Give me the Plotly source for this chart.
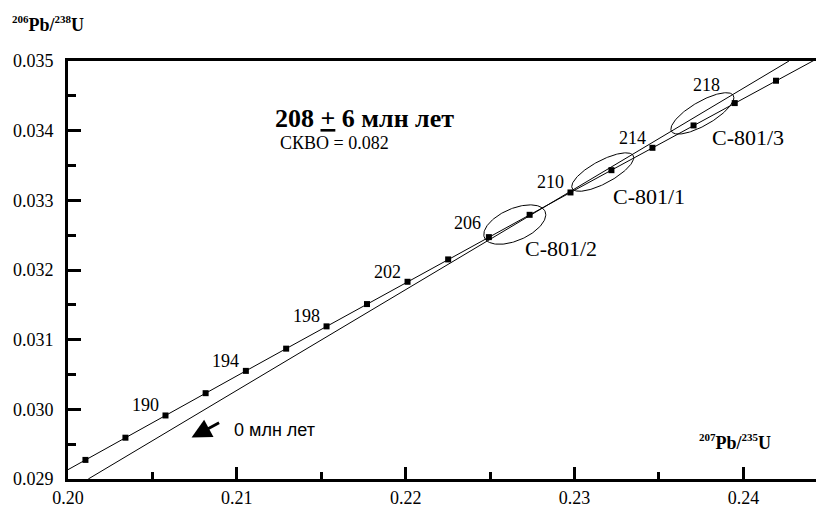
import numpy as np
import plotly.graph_objects as go

# ---------------- data ----------------
# Concordia tick marks (age in Ma) and their ratios
marker_ages = [186, 188, 190, 192, 194, 196, 198, 200, 202, 204, 206, 208, 210, 212, 214, 216, 218, 220]
marker_x = [0.201033, 0.203401, 0.205774, 0.208151, 0.210534, 0.212920, 0.215312, 0.217708, 0.220109,
            0.222514, 0.224925, 0.227340, 0.229759, 0.232184, 0.234613, 0.237048, 0.239487, 0.241930]
marker_y = [0.029274, 0.029593, 0.029912, 0.030232, 0.030552, 0.030871, 0.031191, 0.031511, 0.031831,
            0.032152, 0.032472, 0.032792, 0.033113, 0.033433, 0.033754, 0.034075, 0.034396, 0.034717]

# Concordia curve ends (at plot borders)
concordia_start = (0.20000, 0.029134)
concordia_end = (0.24430, 0.035025)

# Labelled ages on the concordia
label_ages = [190, 194, 198, 202, 206, 210, 214, 218]

# Discordia (line to 0 Ma) end points
discordia_x = [0.2012, 0.2427]
discordia_y = [0.0290, 0.0350]

# Sample error ellipses
sample_names = ["C-801/2", "C-801/1", "C-801/3"]
ell_cx = [0.22646, 0.23167, 0.23757]
ell_cy = [0.032652, 0.033406, 0.034248]
ell_sx = [0.001837, 0.001837, 0.001867]
ell_sy = [0.000283, 0.000276, 0.000297]
ell_rho = [0.50, 0.75, 0.76]

# Axis ticks
x_ticks = [0.20, 0.21, 0.22, 0.23, 0.24]
x_ticktext = ["0.20", "0.21", "0.22", "0.23", "0.24"]
y_ticks = [0.029, 0.030, 0.031, 0.032, 0.033, 0.034, 0.035]
y_ticktext = ["0.029", "0.030", "0.031", "0.032", "0.033", "0.034", "0.035"]

age_text = "<b>208 <u>+</u> 6 млн лет</b>"
mswd_text = "СКВО = 0.082"
zero_text = "0 млн лет"
y_title = "<b><sup><span style='font-size:11px'>206</span></sup>Pb/<sup><span style='font-size:11px'>238</span></sup>U</b>"
x_title = "<b><sup><span style='font-size:11px'>207</span></sup>Pb/<sup><span style='font-size:11px'>235</span></sup>U</b>"

# ---------------- figure ----------------
SERIF = "Liberation Serif"
SANS = "Liberation Sans"

fig = go.Figure()

# concordia line
cx_line = [concordia_start[0]] + marker_x + [concordia_end[0]]
cy_line = [concordia_start[1]] + marker_y + [concordia_end[1]]
fig.add_trace(go.Scatter(x=cx_line, y=cy_line, mode="lines",
                         line=dict(color="black", width=1), hoverinfo="skip", showlegend=False))

# discordia
fig.add_trace(go.Scatter(x=discordia_x, y=discordia_y, mode="lines",
                         line=dict(color="black", width=1), hoverinfo="skip", showlegend=False))

# ellipses
t = np.linspace(0, 2 * np.pi, 200)
for cx, cy, sx, sy, r in zip(ell_cx, ell_cy, ell_sx, ell_sy, ell_rho):
    ex = cx + sx * np.cos(t)
    ey = cy + sy * (r * np.cos(t) + np.sqrt(1 - r * r) * np.sin(t))
    fig.add_trace(go.Scatter(x=ex, y=ey, mode="lines", line=dict(color="black", width=1),
                             hoverinfo="skip", showlegend=False))

# markers
fig.add_trace(go.Scatter(x=marker_x, y=marker_y, mode="markers",
                         marker=dict(symbol="square", size=6, color="black"),
                         showlegend=False))

annotations = []
# age labels
special = {206: (-21, 14), 218: (-28, 18)}
for a in label_ages:
    i = marker_ages.index(a)
    xs, ys = special.get(a, (-20, 10))
    annotations.append(dict(x=marker_x[i], y=marker_y[i], xref="x", yref="y", text=str(a),
                            showarrow=False, xshift=xs, yshift=ys,
                            font=dict(family=SERIF, size=18, color="black")))
# sample labels
for name, cx, cy in zip(sample_names, ell_cx, ell_cy):
    annotations.append(dict(x=cx, y=cy, xref="x", yref="y", text=name, showarrow=False,
                            xshift=46, yshift=-24,
                            font=dict(family=SERIF, size=22, color="black")))

annotations += [
    dict(x=0.21212, y=0.034177, xref="x", yref="y", text=age_text, showarrow=False,
         xanchor="left", yanchor="middle", font=dict(family=SERIF, size=26, color="black")),
    dict(x=0.21242, y=0.033823, xref="x", yref="y", text=mswd_text, showarrow=False,
         xanchor="left", yanchor="middle", font=dict(family=SERIF, size=18, color="black")),
    dict(x=0.20969, y=0.029707, xref="x", yref="y", text=zero_text, showarrow=False,
         xanchor="left", yanchor="middle", font=dict(family=SANS, size=18, color="black")),
    # arrow
    dict(x=0.207319, y=0.029594, ax=0.209037, ay=0.029820, xref="x", yref="y",
         axref="x", ayref="y", text="", showarrow=True, arrowhead=2, arrowsize=1.4,
         arrowwidth=2.8, arrowcolor="black", standoff=0),
    # axis titles
    dict(x=-0.0775, y=1.0896, xref="paper", yref="paper", xanchor="left", yanchor="middle",
         text=y_title, showarrow=False, font=dict(family=SERIF, size=18, color="black")),
    dict(x=0.237244, y=0.029537, xref="x", yref="y", xanchor="left", yanchor="middle",
         text=x_title, showarrow=False, font=dict(family=SERIF, size=18, color="black")),
]

fig.update_layout(
    width=816, height=508,
    margin=dict(l=68, r=0, t=61, b=23),
    paper_bgcolor="white", plot_bgcolor="white",
    annotations=annotations,
    showlegend=False,
    font=dict(family=SERIF, size=18, color="black"),
)
fig.update_xaxes(range=[0.20, 0.2443], tickvals=x_ticks, ticktext=x_ticktext,
                 ticks="inside", ticklen=12, tickwidth=2.5, tickcolor="black",
                 showline=True, linewidth=3, linecolor="black", mirror=True,
                 showgrid=False, zeroline=False,
                 minor=dict(dtick=0.005, ticks="inside", ticklen=7, tickwidth=2.5, tickcolor="black", showgrid=False),
                 tickfont=dict(family=SERIF, size=18, color="black"))
fig.update_yaxes(range=[0.029, 0.035], tickvals=y_ticks, ticktext=y_ticktext,
                 ticks="inside", ticklen=13, tickwidth=2.5, tickcolor="black",
                 showline=True, linewidth=3, linecolor="black",
                 showgrid=False, zeroline=False, ticklabelstandoff=8,
                 minor=dict(dtick=0.0005, ticks="inside", ticklen=8, tickwidth=2.5, tickcolor="black", showgrid=False),
                 tickfont=dict(family=SERIF, size=18, color="black"))

fig.write_html("out.html", config={"displayModeBar": False},
               post_script="document.body.style.margin='0';document.body.style.overflow='hidden';")
